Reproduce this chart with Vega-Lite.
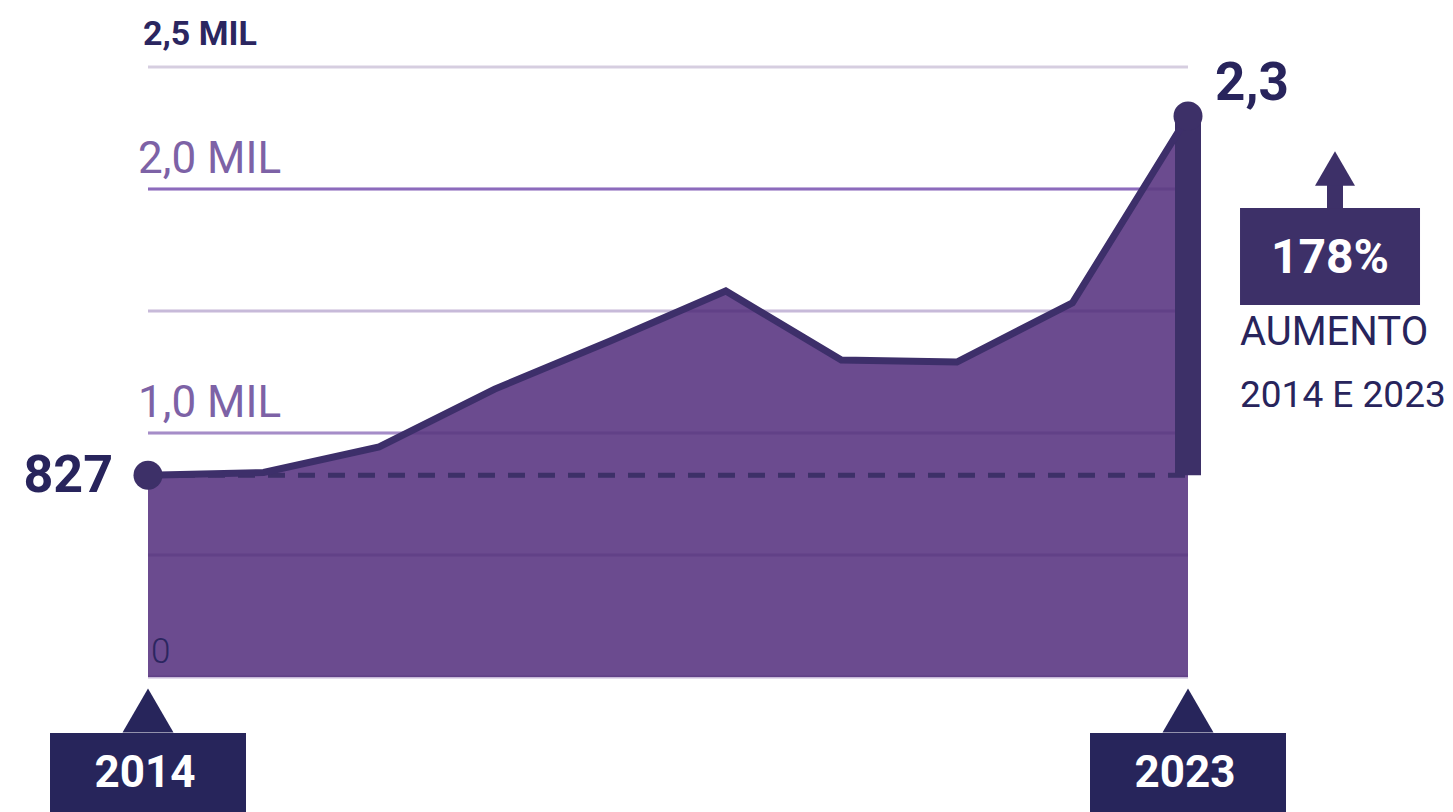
{
  "$schema": "https://vega.github.io/schema/vega-lite/v6.json",
  "autosize": {"type": "none"},
  "width": 1040,
  "height": 610,
  "padding": {"left": 148, "top": 67, "right": 265, "bottom": 135},
  "background": "white",
  "config": {
    "view": {"stroke": null},
    "font": "Roboto",
    "axisX": {"disable": true},
    "axisY": {"disable": true}
  },
  "datasets": {
    "ticks": [{"tick": 0}, {"tick": 500}, {"tick": 1000}, {"tick": 1500}, {"tick": 2000}, {"tick": 2500}]
  },
  "data": {
    "values": [
      {"year": 2014, "value": 827},
      {"year": 2015, "value": 838},
      {"year": 2016, "value": 943},
      {"year": 2017, "value": 1180},
      {"year": 2018, "value": 1377},
      {"year": 2019, "value": 1582},
      {"year": 2020, "value": 1299},
      {"year": 2021, "value": 1291},
      {"year": 2022, "value": 1533},
      {"year": 2023, "value": 2299}
    ]
  },
  "layer": [
    {
      "data": {"name": "ticks"},
      "mark": {"type": "rule", "color": "#9672cc", "strokeWidth": 3},
      "encoding": {
        "x": {"datum": 2014, "scale": {"domain": [2014, 2023], "nice": false, "zero": false, "padding": 0}},
        "x2": {"datum": 2023},
        "y": {"field": "tick", "type": "quantitative", "scale": {"domain": [0, 2500], "nice": false, "padding": 0}},
        "opacity": {
          "condition": [
            {"test": "datum.tick === 2000", "value": 0.9},
            {"test": "datum.tick === 2500", "value": 0.02},
            {"test": "datum.tick === 1000", "value": 0.6}
          ],
          "value": 0.2
        }
      }
    },
    {
      "mark": {"type": "area", "color": "#6b4b8f"},
      "encoding": {
        "x": {"field": "year", "type": "quantitative"},
        "y": {"field": "value", "type": "quantitative"}
      }
    },
    {
      "data": {"name": "ticks"},
      "mark": {"type": "rule", "color": "#3a1a6a", "strokeWidth": 3, "opacity": 0.2},
      "encoding": {
        "x": {"datum": 2014},
        "x2": {"datum": 2023},
        "y": {"field": "tick", "type": "quantitative"}
      }
    },
    {
      "transform": [{"filter": "datum.year === 2014"}],
      "mark": {"type": "rule", "color": "#3d3068", "strokeWidth": 5, "strokeDash": [17, 13]},
      "encoding": {
        "x": {"field": "year", "type": "quantitative"},
        "x2": {"datum": 2023},
        "y": {"field": "value", "type": "quantitative"}
      }
    },
    {
      "transform": [
        {"joinaggregate": [{"op": "min", "field": "value", "as": "base"}]},
        {"filter": "datum.year === 2023"}
      ],
      "mark": {"type": "rule", "color": "#3d3068", "strokeWidth": 26, "strokeCap": "butt"},
      "encoding": {
        "x": {"field": "year", "type": "quantitative"},
        "y": {"field": "base", "type": "quantitative"},
        "y2": {"field": "value"}
      }
    },
    {
      "mark": {"type": "line", "color": "#3d2f6a", "strokeWidth": 7, "strokeJoin": "miter"},
      "encoding": {
        "x": {"field": "year", "type": "quantitative"},
        "y": {"field": "value", "type": "quantitative"}
      }
    },
    {
      "transform": [{"filter": "datum.year === 2014 || datum.year === 2023"}],
      "mark": {"type": "circle", "color": "#3d3068", "opacity": 1, "size": 841},
      "encoding": {
        "x": {"field": "year", "type": "quantitative"},
        "y": {"field": "value", "type": "quantitative"}
      }
    },
    {
      "transform": [{"filter": "datum.year === 2014"}],
      "mark": {"type": "text", "align": "right", "baseline": "alphabetic", "dx": -35, "dy": 17, "fontSize": 52, "fontWeight": "bold", "color": "#28245c"},
      "encoding": {
        "x": {"field": "year", "type": "quantitative"},
        "y": {"field": "value", "type": "quantitative"},
        "text": {"field": "value", "type": "quantitative", "format": "d"}
      }
    },
    {
      "transform": [{"filter": "datum.year === 2023"}],
      "mark": {"type": "text", "align": "left", "baseline": "alphabetic", "dx": 27, "dy": -16, "fontSize": 53, "fontWeight": "bold", "color": "#28245c"},
      "encoding": {
        "x": {"field": "year", "type": "quantitative"},
        "y": {"field": "value", "type": "quantitative"},
        "text": {"value": "2,3"}
      }
    },
    {
      "data": {"values": [{"tick": 2500, "label": "2,5 MIL"}]},
      "mark": {"type": "text", "align": "left", "baseline": "alphabetic", "dx": -5, "dy": -22, "fontSize": 34, "fontWeight": "bold", "color": "#2b2660"},
      "encoding": {
        "x": {"datum": 2014},
        "y": {"field": "tick", "type": "quantitative"},
        "text": {"field": "label"}
      }
    },
    {
      "data": {"values": [{"tick": 2000, "label": "2,0 MIL"}, {"tick": 1000, "label": "1,0 MIL"}]},
      "mark": {"type": "text", "align": "left", "baseline": "alphabetic", "dx": -10, "dy": -16, "fontSize": 44, "fontWeight": "normal", "color": "#7d62a6"},
      "encoding": {
        "x": {"datum": 2014},
        "y": {"field": "tick", "type": "quantitative"},
        "text": {"field": "label"}
      }
    },
    {
      "data": {"values": [{"tick": 0, "label": "0"}]},
      "mark": {"type": "text", "align": "left", "baseline": "alphabetic", "dx": 3, "dy": -14, "fontSize": 35, "fontWeight": 300, "color": "#2b2660"},
      "encoding": {
        "x": {"datum": 2014},
        "y": {"field": "tick", "type": "quantitative"},
        "text": {"field": "label"}
      }
    },
    {
      "transform": [{"filter": "datum.year === 2014 || datum.year === 2023"}],
      "mark": {"type": "bar", "color": "#27255b", "width": 196},
      "encoding": {
        "x": {"field": "year", "type": "quantitative"},
        "y": {"datum": -229.5},
        "y2": {"datum": -700}
      }
    },
    {
      "transform": [{"filter": "datum.year === 2014 || datum.year === 2023"}],
      "mark": {"type": "point", "shape": "triangle-up", "filled": true, "opacity": 1, "color": "#27255b", "size": 2601},
      "encoding": {
        "x": {"field": "year", "type": "quantitative"},
        "y": {"datum": -137.3}
      }
    },
    {
      "transform": [{"filter": "datum.year === 2014 || datum.year === 2023"}],
      "mark": {"type": "text", "align": "center", "baseline": "alphabetic", "dx": -3, "fontSize": 44, "fontWeight": "bold", "color": "white"},
      "encoding": {
        "x": {"field": "year", "type": "quantitative"},
        "y": {"datum": -450.8},
        "text": {"field": "year", "type": "quantitative", "format": "d"}
      }
    },
    {
      "data": {"values": [{"label": "178%"}]},
      "mark": {"type": "bar", "color": "#3d3068", "width": 180},
      "encoding": {
        "x": {"datum": 2024.229},
        "y": {"datum": 1922},
        "y2": {"datum": 1524.6}
      }
    },
    {
      "data": {"values": [{"label": "178%"}]},
      "mark": {"type": "rule", "color": "#3d3068", "strokeWidth": 16, "strokeCap": "butt"},
      "encoding": {
        "x": {"datum": 2024.272},
        "y": {"datum": 2030},
        "y2": {"datum": 1922}
      }
    },
    {
      "data": {"values": [{"label": "178%"}]},
      "mark": {"type": "point", "shape": "triangle-up", "filled": true, "opacity": 1, "color": "#3d3068", "size": 1600},
      "encoding": {
        "x": {"datum": 2024.272},
        "y": {"datum": 2084}
      }
    },
    {
      "data": {"values": [{"label": "178%"}]},
      "mark": {"type": "text", "align": "center", "baseline": "alphabetic", "fontSize": 48, "fontWeight": "bold", "color": "white"},
      "encoding": {
        "x": {"datum": 2024.229},
        "y": {"datum": 1655.7},
        "text": {"field": "label"}
      }
    },
    {
      "data": {"values": [{"label": "AUMENTO"}]},
      "mark": {"type": "text", "align": "left", "baseline": "alphabetic", "fontSize": 40, "letterSpacing": 1, "fontWeight": "normal", "color": "#28245c"},
      "encoding": {
        "x": {"datum": 2023.45},
        "y": {"datum": 1360.7},
        "text": {"field": "label"}
      }
    },
    {
      "data": {"values": [{"label": "2014 E 2023"}]},
      "mark": {"type": "text", "align": "left", "baseline": "alphabetic", "fontSize": 37, "letterSpacing": -0.3, "fontWeight": "normal", "color": "#28245c"},
      "encoding": {
        "x": {"datum": 2023.45},
        "y": {"datum": 1106.6},
        "text": {"field": "label"}
      }
    }
  ]
}
